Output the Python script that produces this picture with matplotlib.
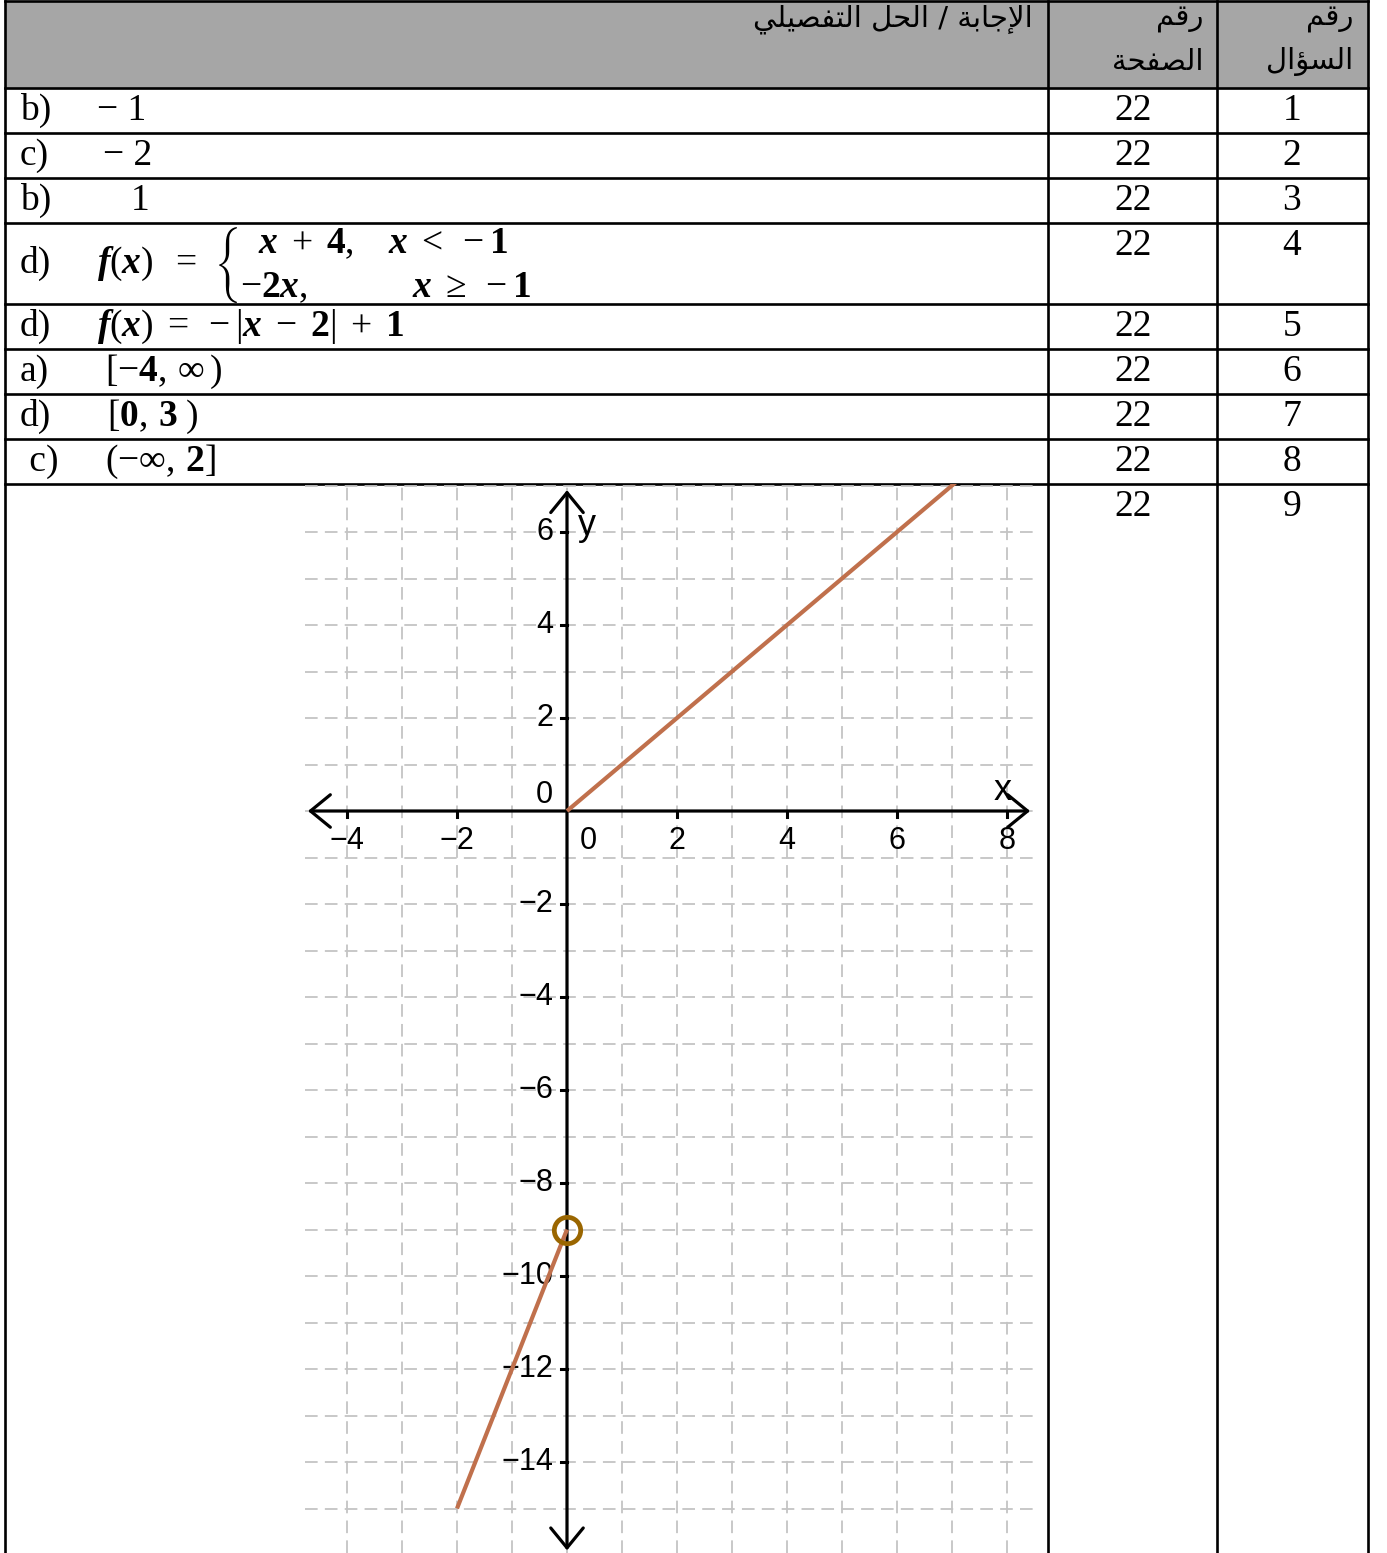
import matplotlib
matplotlib.use("Agg")
import matplotlib.pyplot as plt

# ---------------- data ----------------
header_answer = "الإجابة / الحل التفصيلي"
header_page = ["رقم", "الصفحة"]
header_question = ["رقم", "السؤال"]

question_numbers = [1, 2, 3, 4, 5, 6, 7, 8, 9]
page_numbers = [22, 22, 22, 22, 22, 22, 22, 22, 22]
choice_letters = ["b)", "c)", "b)", "d)", "d)", "a)", "d)", " c)"]

seg1_x = [0, 7.2]          # f(x) = x, x >= 0
seg1_y = [0, 7.2]
seg2_x = [-2, 0]           # f(x) = 3x - 9, -2 <= x < 0
seg2_y = [-15, -9]
open_x = [0]
open_y = [-9]

x_ticks = [-4, -2, 2, 4, 6, 8]
y_ticks = [-14, -12, -10, -8, -6, -4, -2, 2, 4, 6]

# ---------------- minimal Arabic shaping (presentation forms) ----------------
FORMS = {  # iso, fin, ini, med ; None -> right-joining only
    "ا": ("\uFE8D", "\uFE8E", None, None),
    "إ": ("\uFE87", "\uFE88", None, None),
    "ؤ": ("\uFE85", "\uFE86", None, None),
    "ر": ("\uFEAD", "\uFEAE", None, None),
    "ة": ("\uFE93", "\uFE94", None, None),
    "ل": ("\uFEDD", "\uFEDE", "\uFEDF", "\uFEE0"),
    "ج": ("\uFE9D", "\uFE9E", "\uFE9F", "\uFEA0"),
    "ب": ("\uFE8F", "\uFE90", "\uFE91", "\uFE92"),
    "ح": ("\uFEA1", "\uFEA2", "\uFEA3", "\uFEA4"),
    "ت": ("\uFE95", "\uFE96", "\uFE97", "\uFE98"),
    "ف": ("\uFED1", "\uFED2", "\uFED3", "\uFED4"),
    "ص": ("\uFEB9", "\uFEBA", "\uFEBB", "\uFEBC"),
    "ي": ("\uFEF1", "\uFEF2", "\uFEF3", "\uFEF4"),
    "ق": ("\uFED5", "\uFED6", "\uFED7", "\uFED8"),
    "م": ("\uFEE1", "\uFEE2", "\uFEE3", "\uFEE4"),
    "س": ("\uFEB1", "\uFEB2", "\uFEB3", "\uFEB4"),
    "لا": ("\uFEFB", "\uFEFC", None, None),
    "لإ": ("\uFEF9", "\uFEFA", None, None),
}


def shape_ar(text):
    toks = []
    i = 0
    while i < len(text):
        c = text[i]
        if c == "ل" and i + 1 < len(text) and text[i:i + 2] in FORMS:
            toks.append(text[i:i + 2]); i += 2
        else:
            toks.append(c); i += 1
    out = []
    for k, t in enumerate(toks):
        if t not in FORMS:
            out.append(t); continue
        prev = toks[k - 1] if k > 0 else None
        nxt = toks[k + 1] if k + 1 < len(toks) else None
        pj = prev in FORMS and FORMS[prev][2] is not None
        nj = FORMS[t][2] is not None and nxt in FORMS
        iso, fin, ini, med = FORMS[t]
        if pj and nj:
            out.append(med)
        elif pj:
            out.append(fin)
        elif nj:
            out.append(ini)
        else:
            out.append(iso)
    return "".join(out)[::-1]


# ---------------- figure ----------------
W, H = 1387, 1553
plt.rcParams["mathtext.fontset"] = "custom"
plt.rcParams["mathtext.rm"] = "Liberation Serif"
plt.rcParams["mathtext.it"] = "Liberation Serif:italic:bold"
plt.rcParams["mathtext.bf"] = "Liberation Serif:bold"

fig = plt.figure(figsize=(W / 100, H / 100), dpi=100)
tab = fig.add_axes([0, 0, 1, 1])
tab.set_xlim(0, W)
tab.set_ylim(H, 0)
tab.axis("off")

x_left, x_c1, x_c2, x_right = 5, 1048, 1217, 1368
row_lines = [1, 88, 133, 178, 223, 304, 349, 394, 439, 484]
lw_tab = 1.9

tab.fill_between([x_left, x_right], 1, 88, color="#A6A6A6", zorder=0)
for y in row_lines:
    tab.plot([x_left, x_right], [y, y], color="black", lw=lw_tab, zorder=5,
             solid_capstyle="projecting")
for x in [x_left, x_c1, x_c2, x_right]:
    tab.plot([x, x], [1, H + 5], color="black", lw=lw_tab, zorder=5)

# header texts
ar_font = "DejaVu Sans"
afs = 21
tab.text(1033, 19, shape_ar(header_answer), ha="right", va="center",
         fontsize=afs, family=ar_font)
tab.text(1203, 19, shape_ar(header_page[0]), ha="right", va="center",
         fontsize=afs, family=ar_font)
tab.text(1203, 62, shape_ar(header_page[1]), ha="right", va="center",
         fontsize=afs, family=ar_font)
tab.text(1353, 19, shape_ar(header_question[0]), ha="right", va="center",
         fontsize=afs, family=ar_font)
tab.text(1353, 62, shape_ar(header_question[1]), ha="right", va="center",
         fontsize=afs, family=ar_font)

serif = "Liberation Serif"
fs = 27
mfs = 27
row_tops = row_lines[1:]
for i, (q, p) in enumerate(zip(question_numbers, page_numbers)):
    yc = row_tops[i] + 23
    tab.text(1133, yc, str(p), ha="center", va="center", fontsize=fs, family=serif)
    tab.text(1292, yc, str(q), ha="center", va="center", fontsize=fs, family=serif)

# answer column
row_centers = [(row_lines[k] + row_lines[k + 1]) / 2 for k in range(1, 9)]
for i, letter in enumerate(choice_letters):
    tab.text(20, row_centers[i], letter, ha="left", va="center", fontsize=fs,
             family=serif)

tab.text(97, row_centers[0], "− 1", ha="left", va="center", fontsize=fs, family=serif)
tab.text(103, row_centers[1], "− 2", ha="left", va="center", fontsize=fs, family=serif)
tab.text(131, row_centers[2], "1", ha="left", va="center", fontsize=fs, family=serif)

# row 4: piecewise function
tab.text(97, row_centers[3], r"$f(x)\;\;=$", ha="left", va="center", fontsize=mfs)
tab.text(215, row_centers[3] + 1, "{", ha="left", va="center", fontsize=22,
         family="STIXSizeThreeSym")
tab.text(258, 243, r"$x\;+\;\mathbf{4},$", ha="left", va="center", fontsize=mfs)
tab.text(388, 243, r"$x\;<\;-\mathbf{1}$", ha="left", va="center", fontsize=mfs)
tab.text(240, 287, r"$-\mathbf{2}x,$", ha="left", va="center", fontsize=mfs)
tab.text(412, 287, r"$x\;\geq\;-\mathbf{1}$", ha="left", va="center", fontsize=mfs)

tab.text(97, row_centers[4], r"$f(x)\;=\;-|x\;-\;\mathbf{2}|\;+\;\mathbf{1}$",
         ha="left", va="center", fontsize=mfs)
tab.text(105, row_centers[5], r"$[-\mathbf{4},\,\infty\,)$", ha="left", va="center",
         fontsize=mfs)
tab.text(107, row_centers[6], r"$[\mathbf{0},\,\mathbf{3}\;)$", ha="left",
         va="center", fontsize=mfs)
tab.text(105, row_centers[7], r"$(-\infty,\,\mathbf{2}]$", ha="left", va="center",
         fontsize=mfs)

# ---------------- graph ----------------
px0, py0, sx, sy = 567, 811, 55.0, 46.5
gl, gr, gt, gb = 305, 1035, 484, 1553
ax = fig.add_axes([gl / W, (H - gb) / H, (gr - gl) / W, (gb - gt) / H])
ax.set_xlim((gl - px0) / sx, (gr - px0) / sx)
ax.set_ylim((py0 - gb) / sy, (py0 - gt) / sy)
ax.patch.set_alpha(0)
for s in ax.spines.values():
    s.set_visible(False)
ax.set_xticks([])
ax.set_yticks([])

grid_col = "#C4C4C4"
for gx in range(-4, 9):
    ax.axvline(gx, color=grid_col, lw=1.3, dashes=(7, 4), zorder=1)
for gy in range(-15, 8):
    ax.axhline(gy, color=grid_col, lw=1.3, dashes=(7, 4), zorder=1)

arrow_kw = dict(arrowstyle="<->,head_length=0.55,head_width=0.45", lw=2.3,
                color="black", mutation_scale=26, shrinkA=0, shrinkB=0)
ax.annotate("", xy=(8.42, 0), xytext=(-4.71, 0), arrowprops=arrow_kw, zorder=4)
ax.annotate("", xy=(0, 6.9), xytext=(0, -15.9), arrowprops=arrow_kw, zorder=4)

for t in x_ticks:
    ax.plot([t, t], [0, -0.13], color="black", lw=2.2, zorder=4)
for t in y_ticks:
    ax.plot([-0.11, 0], [t, t], color="black", lw=2.2, zorder=4)

gfont = "Liberation Sans"
gfs = 22
for t in x_ticks:
    ax.text(t, -0.65, f"{t}".replace("-", "−"), ha="center", va="center",
            fontsize=gfs, family=gfont, zorder=6)
ax.text(0.38, -0.65, "0", ha="center", va="center", fontsize=gfs, family=gfont)
for t in y_ticks:
    ax.text(-0.25, t, f"{t}".replace("-", "−"), ha="right", va="center",
            fontsize=gfs, family=gfont, zorder=6)
ax.text(-0.25, 0.34, "0", ha="right", va="center", fontsize=gfs, family=gfont)
ax.text(7.93, 0.45, "x", ha="center", va="center", fontsize=26, family=gfont)
ax.text(0.36, 6.15, "y", ha="center", va="center", fontsize=26, family=gfont)

line_col = "#C0704C"
ax.plot(seg1_x, seg1_y, color=line_col, lw=3.0, zorder=7, solid_capstyle="butt")
ax.plot(seg2_x, seg2_y, color=line_col, lw=3.0, zorder=7, solid_capstyle="butt")
ax.plot(open_x, open_y, marker="o", ms=19, mfc="none", mec="#9A6600", mew=3.4,
        zorder=8, linestyle="none")

fig.savefig("out.png", dpi=100)
